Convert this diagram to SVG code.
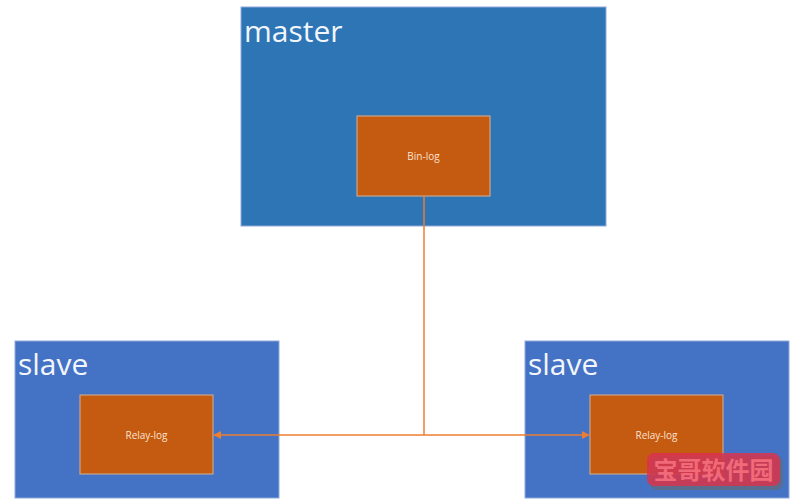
<svg xmlns="http://www.w3.org/2000/svg" width="790" height="500" viewBox="0 0 790 500">
<defs>
<style>
.host{stroke:#8faadc;stroke-width:1}
.log{fill:#c55a11;stroke:#c9a58a;stroke-width:1.2}
.big{font-family:"Open Sans","Liberation Sans",sans-serif;font-size:30px;fill:#f2f6fb}
.small{font-family:"Open Sans","Liberation Sans",sans-serif;font-size:10px;fill:#fbe2cf;text-anchor:middle}
.conn{stroke:#ed7d31;stroke-width:1.5;fill:none}
</style>
<marker id="arr" viewBox="0 0 10 10" refX="9" refY="5" markerWidth="8" markerHeight="8" markerUnits="userSpaceOnUse" orient="auto-start-reverse">
<path d="M0,0 L10,5 L0,10 z" fill="#ed7d31"/>
</marker>
</defs>
<rect width="790" height="500" fill="#ffffff"/>
<g id="master">
<rect x="241" y="7" width="365" height="219" fill="#2e75b6" class="host"/>
<text x="244" y="42" class="big">master</text>
</g>
<g id="binlog">
<rect x="357" y="116" width="133" height="80" class="log"/>
<text x="423.5" y="159.5" class="small">Bin-log</text>
</g>
<g id="slave-left">
<rect x="15" y="341" width="264" height="157" fill="#4472c4" class="host"/>
<text x="18" y="375" class="big">slave</text>
</g>
<g id="relay-left">
<rect x="80" y="395" width="133" height="79" class="log"/>
<text x="146.5" y="438.5" class="small">Relay-log</text>
</g>
<g id="slave-right">
<rect x="525" y="341" width="264" height="157" fill="#4472c4" class="host"/>
<text x="528" y="375" class="big">slave</text>
</g>
<g id="relay-right">
<rect x="590" y="395" width="133" height="79" class="log"/>
<text x="656.5" y="438.5" class="small">Relay-log</text>
</g>
<g id="connectors">
<path class="conn" d="M424,196 V435"/>
<path class="conn" d="M424,435 H214" marker-end="url(#arr)"/>
<path class="conn" d="M424,435 H589" marker-end="url(#arr)"/>
</g>
<g id="watermark">
<rect x="650" y="456" width="133" height="34" rx="7" fill="#6b6b6b" opacity="0.6"/>
<rect x="647" y="453" width="133" height="33" rx="7" fill="#d8344f" opacity="0.85"/>
<text x="713.5" y="479" font-family="'Noto Sans CJK SC',sans-serif" font-size="24" font-weight="bold" fill="#f06a7a" text-anchor="middle">宝哥软件园</text>
</g>
</svg>
